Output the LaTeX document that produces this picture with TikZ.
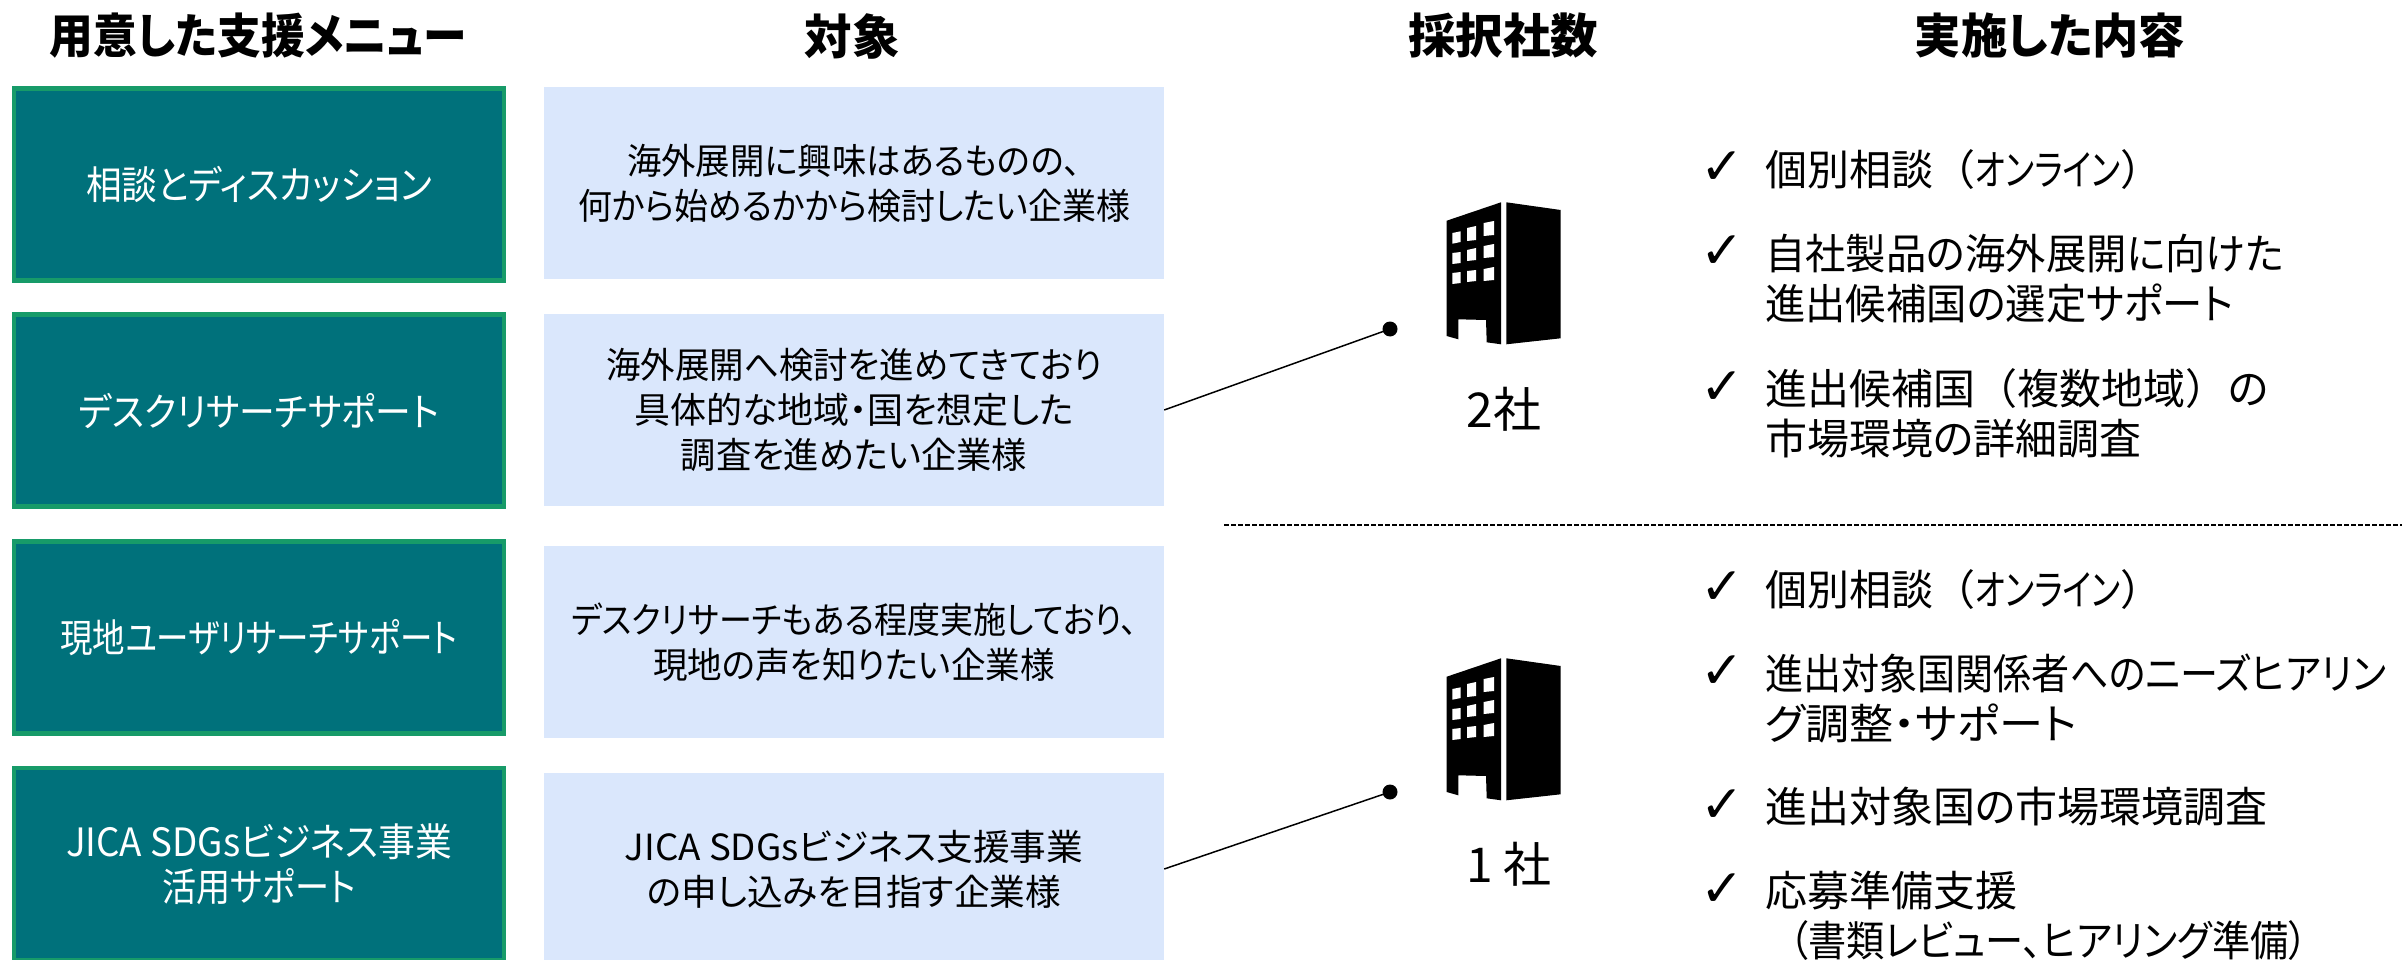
\documentclass[tikz,border=0pt]{standalone}
\usepackage{graphicx}
\usepackage{fontspec}
\setmainfont[RawFeature={+palt}]{Noto Sans CJK JP}
\newfontfamily\fullfont{Noto Sans CJK JP}
\newfontfamily\symfont{DejaVu Sans}
\usepackage{tikz}
\definecolor{menufill}{HTML}{00717B}
\definecolor{menuedge}{HTML}{179B69}
\definecolor{targetfill}{HTML}{DAE7FC}
\newcommand{\sq}[2]{\scalebox{#1}[1]{#2}}
\tikzset{
  menubox/.style={draw=menuedge,fill=menufill,line width=4.5pt,minimum width=490pt,minimum height=192pt,text=white,align=center,inner sep=0pt,font=\fontsize{39}{45}\selectfont},
  targetbox/.style={fill=targetfill,minimum width=620pt,minimum height=192pt,align=center,inner sep=0pt,font=\fontsize{36}{45}\selectfont},
  headtext/.style={inner sep=0pt,font=\fontsize{47.5}{50}\selectfont\bfseries},
  itemtext/.style={anchor=west,align=left,inner sep=0pt,font=\fontsize{42}{50}\selectfont},
  chkmark/.style={inner sep=0pt,font=\fontsize{52}{54}\symfont},
  counttext/.style={inner sep=0pt,font=\fontsize{48}{50}\selectfont},
  enddot/.style={circle,fill=black,inner sep=0pt,minimum size=15pt},
  building/.pic={
    \fill (46.7,40.7) -- (101,22.3) -- (101,164.3) -- (86.7,162.3) -- (86,140) -- (58.3,139.3) -- (58.3,159.3) -- (46.7,156) -- cycle;
    \fill (106.3,22.3) -- (160.7,30) -- (160.7,158.3) -- (106.3,164.3) -- cycle;
    \foreach \xa/\xb/\ya/\yb/\yc/\yd in {52.3/60.7/53/51.3/62/63.7,67/76/48/46/60/61,83.7/94/43/41/55/56,
      52.3/60.7/73/72/83/84,67/76/70/68/80/81,83.7/94/66/64/77/78,
      52.3/60.7/93/92/103/104,67/76/91/90/101/102,83.7/94/89/87/100/101}
    \fill[white] (\xa,\ya) -- (\xb,\yb) -- (\xb,\yc) -- (\xa,\yd) -- cycle;
  }
}
\begin{document}
\begin{tikzpicture}[x=1pt,y=-1pt,line cap=butt]
\useasboundingbox (0,0) rectangle (2402,960);
\clip (0,0) rectangle (2402,960);
\node (headmenu) [headtext] at (258,36) {\sq{.92}{用意した支援メニュー}};
\node (headtarget) [headtext] at (852,36) {対象};
\node (headcount) [headtext] at (1503,36) {採択社数};
\node (headdone) [headtext] at (2050,36) {\sq{.975}{実施した内容}};
\node (menuone) [menubox] at (259,184.5) {\sq{.915}{相談とディスカッション}};
\node (menutwo) [menubox] at (259,410.5) {\sq{.918}{デスクリサーチサポート}};
\node (menuthree) [menubox] at (259,637.5) {\sq{.833}{現地ユーザリサーチサポート}};
\node (menufour) [menubox] at (259,864) {\sq{.943}{JICA SDGsビジネス事業}\\\sq{.875}{活用サポート}};
\node (targetone) [targetbox] at (854,183) {\sq{.955}{海外展開に興味はあるものの、}\\\sq{.942}{何から始めるかから検討したい企業様}};
\node (targettwo) [targetbox] at (854,410) {\sq{.958}{海外展開へ検討を進めてきており}\\具体的な地域・国を想定した\\\sq{.98}{調査を進めたい企業様}};
\node (targetthree) [targetbox] at (854,642) {\sq{.916}{デスクリサーチもある程度実施しており、}\\\sq{.96}{現地の声を知りたい企業様}};
\node (targetfour) [targetbox] at (854,869) {\sq{1.02}{JICA SDGsビジネス支援事業}\\\sq{.99}{の申し込みを目指す企業様}};
\pic at (1400,180) {building};
\pic at (1400,636) {building};
\node (dotone) [enddot] at (1390,329) {};
\node (dottwo) [enddot] at (1390,792) {};
\node (countone) [counttext] at (1504,409) {2社};
\node (counttwo) [counttext] at (1509,864) {1 社};
\draw[line width=1.5pt] (targettwo.east) -- (dotone.center);
\draw[line width=1.5pt] (targetfour.east) -- (dottwo.center);
\coordinate (rulestart) at (1224,525);
\coordinate (ruleend) at (2402,525);
\draw[line width=1.5pt,dash pattern=on 5pt off 2pt] (rulestart) -- (ruleend);
\foreach \n/\y in {a/168,b/252,c/388,d/588,e/672,f/806,g/890}
\node (chk\n) [chkmark] at (1722,\y) {✓};
\node (itema) [itemtext] at (1765,170) {{\fullfont 個別相談（}\sq{.78}{オンライン}{\fullfont ）}};
\node (itemb) [itemtext] at (1765,279) {\sq{.96}{自社製品の海外展開に向けた}\\\sq{.96}{進出候補国の選定サポート}};
\node (itemc) [itemtext] at (1765,413) {{\fullfont 進出候補国（複数地域）の}\\市場環境の詳細調査};
\node (itemd) [itemtext] at (1765,590) {{\fullfont 個別相談（}\sq{.78}{オンライン}{\fullfont ）}};
\node (iteme) [itemtext] at (1765,698) {\sq{.907}{進出対象国関係者へのニーズヒアリン}\\\sq{1.05}{グ調整・サポート}};
\node (itemf) [itemtext] at (1765,807) {進出対象国の市場環境調査};
\node (itemg) [itemtext] at (1765,916) {応募準備支援\\\hspace*{24pt}\sq{.91}{（書類レビュー、ヒアリング準備）}};
\end{tikzpicture}
\end{document}
